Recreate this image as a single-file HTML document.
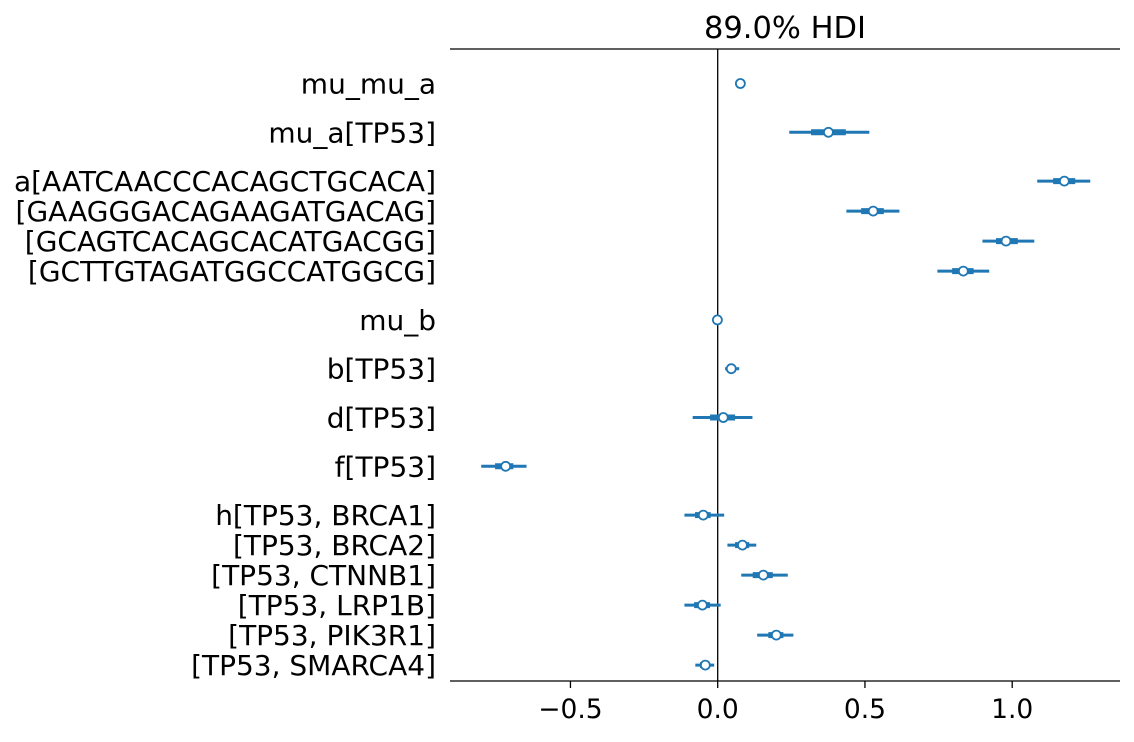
<!DOCTYPE html>
<html><head><meta charset="utf-8"><style>
body{margin:0;background:#fff}
svg text{font-family:"DejaVu Sans","Liberation Sans",sans-serif;fill:#000}
</style></head><body>
<svg id="chart" width="1134" height="737">
<text x="785" y="38" font-size="30.5" text-anchor="middle">89.0% HDI</text>
<line x1="450" y1="49" x2="1120" y2="49" stroke="#000" stroke-width="1.3"/>
<line x1="450" y1="681" x2="1120" y2="681" stroke="#000" stroke-width="1.3"/>
<g id="marks"></g>
</svg>
<script>
const labels=["mu_mu_a","mu_a[TP53]","a[AATCAACCCACAGCTGCACA]","[GAAGGGACAGAAGATGACAG]","[GCAGTCACAGCACATGACGG]","[GCTTGTAGATGGCCATGGCG]","mu_b","b[TP53]","d[TP53]","f[TP53]","h[TP53, BRCA1]","[TP53, BRCA2]","[TP53, CTNNB1]","[TP53, LRP1B]","[TP53, PIK3R1]","[TP53, SMARCA4]"];
const groups=[0,1,2,2,2,2,3,4,5,6,7,7,7,7,7,7];
const means=[0.077,0.376,1.177,0.528,0.979,0.834,-0.001,0.046,0.019,-0.720,-0.049,0.084,0.155,-0.052,0.199,-0.042];
const hdiLow=[0.072,0.243,1.085,0.437,0.899,0.746,-0.004,0.025,-0.085,-0.803,-0.113,0.033,0.080,-0.113,0.134,-0.076];
const hdiHigh=[0.082,0.515,1.265,0.617,1.075,0.922,0.002,0.073,0.118,-0.649,0.022,0.131,0.238,0.010,0.257,-0.012];
const qLow=[0.075,0.317,1.139,0.487,0.945,0.796,-0.002,0.036,-0.026,-0.756,-0.077,0.059,0.119,-0.080,0.172,-0.060];
const qHigh=[0.079,0.435,1.214,0.564,1.019,0.869,0.001,0.062,0.059,-0.694,-0.024,0.107,0.187,-0.026,0.223,-0.029];
const ticks=[-0.5,0.0,0.5,1.0];
const tickLabels=["\u22120.5","0.0","0.5","1.0"];
const NS="http://www.w3.org/2000/svg";
const xs=v=>717.7+v*294.5;
function ys(i){let y=83.5;for(let k=1;k<=i;k++){y+=(groups[k]===groups[k-1])?30:48.8;}return y;}
const g=document.getElementById('marks');
function mk(tag,a){const e=document.createElementNS(NS,tag);for(const k in a)e.setAttribute(k,a[k]);g.appendChild(e);return e;}
const z=mk('line',{x1:xs(0),x2:xs(0),y1:49,y2:681,stroke:'#000','stroke-width':1.3});


ticks.forEach((t,i)=>{
 const tl=mk('line',{x1:xs(t),x2:xs(t),y1:681,y2:688,stroke:'#000','stroke-width':1.3});
 
 
 const tx=mk('text',{x:xs(t),y:718,'font-size':26.5,'text-anchor':'middle'});
 tx.textContent=tickLabels[i];
 
 
});
labels.forEach((l,i)=>{
 const y=ys(i);
 const t=mk('text',{x:436,y:y+10,'font-size':28,'text-anchor':'end'});
 t.textContent=l;
 
 
 const a=mk('line',{x1:xs(hdiLow[i]),x2:xs(hdiHigh[i]),y1:y,y2:y,stroke:'#1f77b4','stroke-width':3});
 
 
 const b=mk('line',{x1:xs(qLow[i]),x2:xs(qHigh[i]),y1:y,y2:y,stroke:'#1f77b4','stroke-width':6});
 
 
 const c=mk('circle',{cx:xs(means[i]),cy:y,r:4.5,fill:'#fff',stroke:'#1f77b4','stroke-width':1.8});
 
 
});
</script>
</body></html>
